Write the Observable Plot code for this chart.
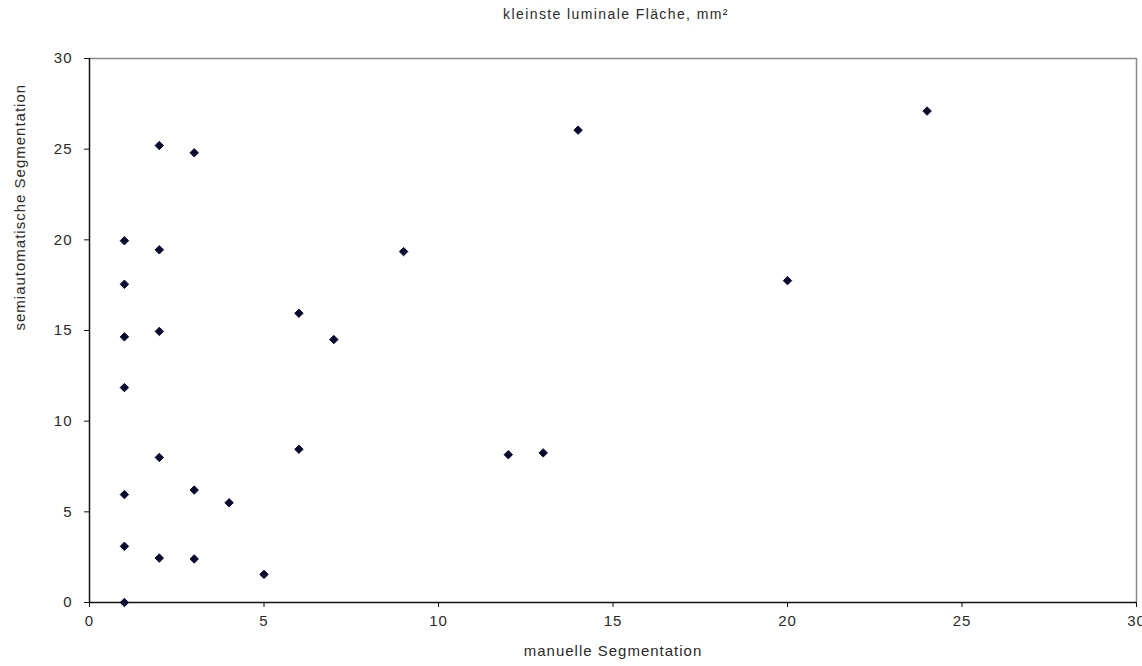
<!DOCTYPE html>
<html>
<head>
<meta charset="utf-8">
<script src="https://cdn.jsdelivr.net/npm/d3@7"></script>
<script src="https://cdn.jsdelivr.net/npm/@observablehq/plot@0.6"></script>
<style>
  html, body { margin: 0; padding: 0; background: #fff; }
  #title { height: 24px; line-height: 24px; text-align: center; font-family: "Liberation Sans", Arial, sans-serif;
           font-size: 14px; letter-spacing: 1.4px; color: #2a2a2a; padding-left: 90px; box-sizing: border-box; width: 1142px; padding-top: 2px; }
  svg text { letter-spacing: 1px; }
</style>
</head>
<body>
<div id="title"></div>
<div id="chart"></div>
<script>
const titleText = "kleinste luminale Fläche, mm²";
const xLabel = "manuelle Segmentation";
const yLabel = "semiautomatische Segmentation";
const xTicks = [0, 5, 10, 15, 20, 25, 30];
const yTicks = [0, 5, 10, 15, 20, 25, 30];

const manual = [1, 1, 1, 1, 1, 1, 1, 2, 2, 2, 2, 2, 3, 3, 3, 4, 5, 6, 6, 7, 9, 12, 13, 14, 20, 24];
const semi   = [0, 3.1, 5.95, 11.85, 14.65, 17.55, 19.95, 2.45, 8.0, 14.95, 19.45, 25.2, 2.4, 6.2, 24.8, 5.5, 1.55, 8.45, 15.95, 14.5, 19.35, 8.15, 8.25, 26.05, 17.75, 27.1];

const data = manual.map((m, i) => ({x: m, y: semi[i]}));

document.getElementById("title").textContent = titleText;

const chart = Plot.plot({
  width: 1142,
  height: 642,
  marginTop: 34,
  marginLeft: 89,
  marginRight: 6,
  marginBottom: 64,
  style: {fontFamily: "'Liberation Sans', Arial, sans-serif", fontSize: "15px", color: "#2a2a2a", background: "#fff", overflow: "visible"},
  x: {domain: [0, 30], ticks: xTicks, label: null},
  y: {domain: [0, 30], ticks: yTicks, label: null},
  marks: [
    Plot.ruleY([30], {stroke: "#888", strokeWidth: 1.5}),
    Plot.ruleX([30], {stroke: "#888", strokeWidth: 1.5}),
    Plot.axisX({ticks: xTicks, tickSize: 5, tickPadding: 8, stroke: "#111", fill: "#2a2a2a", label: null}),
    Plot.axisY({ticks: yTicks, tickSize: 5, tickPadding: 12, stroke: "#111", fill: "#2a2a2a", label: null}),
    Plot.ruleY([0], {stroke: "#111", strokeWidth: 1.5}),
    Plot.ruleX([0], {stroke: "#111", strokeWidth: 1.5}),
    Plot.text([xLabel], {frameAnchor: "bottom", dy: 53, text: d => d, fontSize: 15, fill: "#2a2a2a"}),
    Plot.text([yLabel], {frameAnchor: "left", dx: -69, rotate: -90, text: d => d, fontSize: 15, fill: "#2a2a2a"}),
    Plot.dot(data, {x: "x", y: "y", symbol: "diamond2", r: 3.8, fill: "#0a0a30", stroke: "#0a0a30", strokeWidth: 1})
  ]
});
document.getElementById("chart").appendChild(chart);
</script>
</body>
</html>
